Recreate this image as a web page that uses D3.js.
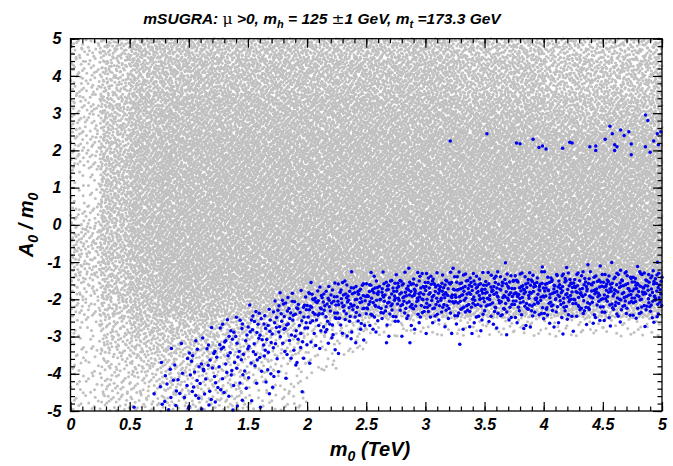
<!DOCTYPE html>
<meta charset="utf-8">
<style>
    body { margin: 0; background: #fff; }
    text {
        font-family: "Liberation Sans", Arial, sans-serif;
        font-weight: bold;
        font-style: italic;
        fill: #000;
    }
    .axis text { font-size: 16px; }
    .axis line { stroke: #000; stroke-width: 1.2px; }
    .sym { font-family: "DejaVu Serif", serif; font-weight: normal; font-style: normal; }
</style>
<svg width="673" height="466"></svg>
<script src="https://d3js.org/d3.v7.min.js"></script>
<script>

    // gray points: density level (0-9) per cell
    // rows go from A0/m0 = 5 down to -5 in steps of 0.5,
    // columns from m0 = 0 to 5 TeV in steps of 0.25
    var grayRows = [
        "24666666666665554444",
        "24677777777776665555",
        "24677777777776665555",
        "25788888888887776666",
        "25788888888888887777",
        "25899999999999999999",
        "26899999999999999999",
        "16899999999999999999",
        "16899999999999999999",
        "26899999999999999999",
        "36899999999999999999",
        "36899999999999999999",
        "35799999999999999999",
        "25788888888888888888",
        "24677666666666666666",
        "13555433221111111111",
        "13444322110000000000",
        "12333221100000000000",
        "12232211000000000000",
        "12222211000000000000"
    ];
    var grayPerLevel = 12;

    // blue points (lower band): counts per cell, one list per m0 column (step 0.25),
    // entries go from A0/m0 = -1 down to -5 in steps of 0.25
    var blueCols = [
        [0, 0, 0, 0, 0, 0, 0, 0, 0, 0, 0, 0, 0, 0, 0, 0],
        [0, 0, 0, 0, 0, 0, 0, 0, 0, 0, 0, 0, 0, 0, 0, 0],
        [0, 0, 0, 0, 0, 0, 0, 0, 0, 0, 0, 0, 0, 0, 1, 1],
        [0, 0, 0, 0, 0, 0, 0, 0, 1, 1, 2, 3, 3, 4, 4, 4],
        [0, 0, 0, 0, 0, 0, 0, 1, 3, 5, 5, 6, 5, 5, 4, 4],
        [0, 0, 0, 0, 0, 1, 4, 6, 7, 6, 5, 5, 4, 3, 3, 2],
        [0, 0, 0, 0, 2, 7, 9, 8, 7, 6, 5, 4, 3, 2, 2, 1],
        [0, 0, 0, 5, 11, 11, 9, 8, 6, 4, 3, 2, 1, 1, 0, 0],
        [0, 0, 4, 14, 16, 13, 9, 6, 4, 2, 1, 0, 0, 0, 0, 0],
        [0, 1, 10, 18, 17, 11, 7, 4, 3, 1, 0, 0, 0, 0, 0, 0],
        [0, 4, 17, 20, 17, 10, 5, 3, 1, 0, 0, 0, 0, 0, 0, 0],
        [1, 7, 19, 21, 17, 9, 4, 2, 1, 0, 0, 0, 0, 0, 0, 0],
        [1, 9, 20, 21, 16, 9, 4, 2, 0, 0, 0, 0, 0, 0, 0, 0],
        [0, 10, 20, 21, 16, 9, 4, 3, 1, 0, 0, 0, 0, 0, 0, 0],
        [1, 10, 20, 21, 16, 9, 3, 2, 0, 0, 0, 0, 0, 0, 0, 0],
        [1, 11, 21, 21, 16, 9, 4, 1, 0, 0, 0, 0, 0, 0, 0, 0],
        [1, 11, 21, 21, 15, 9, 4, 1, 0, 0, 0, 0, 0, 0, 0, 0],
        [2, 12, 21, 21, 15, 8, 3, 1, 0, 0, 0, 0, 0, 0, 0, 0],
        [2, 13, 21, 20, 15, 8, 3, 0, 0, 0, 0, 0, 0, 0, 0, 0],
        [3, 14, 21, 20, 15, 8, 3, 0, 0, 0, 0, 0, 0, 0, 0, 0]
    ];

    // the few blue points of the upper branch
    var blueUpperM0 = [3.21, 3.52, 3.77, 3.80, 3.91, 3.96, 3.99, 4.02, 4.16, 4.22, 4.24, 4.39, 4.44, 4.44,
        4.52, 4.56, 4.58, 4.60, 4.60, 4.62, 4.65, 4.68, 4.72, 4.74, 4.74, 4.86, 4.88, 4.86, 4.90, 4.93,
        4.96, 4.97, 4.99];
    var blueUpperA = [2.25, 2.45, 2.20, 2.18, 2.30, 2.08, 2.12, 2.04, 2.06, 2.22, 2.20, 2.10, 2.12, 2.00,
        2.30, 2.65, 2.45, 2.15, 2.00, 2.10, 2.55, 2.40, 2.50, 2.17, 1.88, 2.95, 2.80, 2.10, 1.95, 2.25,
        2.45, 2.15, 2.50];

    var xTicks = [0, 0.5, 1, 1.5, 2, 2.5, 3, 3.5, 4, 4.5, 5];
    var yTicks = [-5, -4, -3, -2, -1, 0, 1, 2, 3, 4, 5];

    var svg = d3.select("svg");
    var plotL = 70.5, plotR = 662, plotT = 38.7, plotB = 411;

    var x = d3.scaleLinear().domain([0, 5]).range([plotL, plotR]);
    var y = d3.scaleLinear().domain([-5, 5]).range([plotB, plotT]);

    // spread the counted points over their cell (leaped Halton sequence)
    function halton(i, b) {
        var f = 1, r = 0;
        while (i > 0) {
            f = f / b;
            r += f * (i % b);
            i = Math.floor(i / b);
        }
        return r;
    }
    var leap = 409;

    var gray = [], k = 1;
    grayRows.forEach(function (row, r) {
        var aTop = 5 - r * 0.5;
        row.split("").forEach(function (ch, c) {
            var n = +ch * grayPerLevel;
            for (var j = 0; j < n; j++, k++) {
                gray.push([c * 0.25 + halton(k * leap, 2) * 0.25, aTop - halton(k * leap, 3) * 0.5]);
            }
        });
    });

    var blue = [];
    k = 3;
    blueCols.forEach(function (col, c) {
        col.forEach(function (n, r) {
            var aTop = -1 - r * 0.25;
            for (var j = 0; j < n; j++, k++) {
                blue.push([c * 0.25 + halton(k * leap, 2) * 0.25, aTop - halton(k * leap, 3) * 0.25]);
            }
        });
    });
    blueUpperM0.forEach(function (m, i) {
        blue.push([m, blueUpperA[i]]);
    });

    svg.append("g")
        .attr("fill", "#c0c0c0")
        .selectAll("circle")
        .data(gray)
        .enter().append("circle")
        .attr("cx", d => x(d[0]))
        .attr("cy", d => y(d[1]))
        .attr("r", 1.5);

    svg.append("g")
        .attr("fill", "#0000ee")
        .selectAll("circle")
        .data(blue)
        .enter().append("circle")
        .attr("cx", d => x(d[0]))
        .attr("cy", d => y(d[1]))
        .attr("r", 1.75);

    // axes, ticks pointing inwards on all four sides
    var xMinor = d3.range(0, 5.001, 0.1).map(d => +d.toFixed(1));
    var yMinor = d3.range(-5, 5.001, 0.2).map(d => +d.toFixed(1));

    function addAxis(axis, tx, ty) {
        var g = svg.append("g")
            .attr("class", "axis")
            .attr("transform", "translate(" + tx + "," + ty + ")")
            .call(axis);
        g.select(".domain").remove();
        return g;
    }

    addAxis(d3.axisBottom(x).tickValues(xMinor).tickSize(-4.5).tickFormat(""), 0, plotB);
    addAxis(d3.axisBottom(x).tickValues(xTicks).tickSize(-9).tickPadding(5).tickFormat(d => String(d)), 0, plotB)
        .selectAll("text").attr("dy", "0.85em");
    addAxis(d3.axisTop(x).tickValues(xMinor).tickSize(-4.5).tickFormat(""), 0, plotT);
    addAxis(d3.axisTop(x).tickValues(xTicks).tickSize(-9).tickFormat(""), 0, plotT);

    addAxis(d3.axisLeft(y).tickValues(yMinor).tickSize(-4.5).tickFormat(""), plotL, 0);
    addAxis(d3.axisLeft(y).tickValues(yTicks).tickSize(-9).tickPadding(9).tickFormat(d => String(d)), plotL, 0);
    addAxis(d3.axisRight(y).tickValues(yMinor).tickSize(-4.5).tickFormat(""), plotR, 0);
    addAxis(d3.axisRight(y).tickValues(yTicks).tickSize(-9).tickFormat(""), plotR, 0);

    svg.append("rect")
        .attr("x", plotL)
        .attr("y", plotT)
        .attr("width", plotR - plotL)
        .attr("height", plotB - plotT)
        .attr("fill", "none")
        .attr("stroke", "#000")
        .attr("stroke-width", 1.3);

    // title
    var title = svg.append("text")
        .attr("x", 322)
        .attr("y", 24)
        .attr("text-anchor", "middle")
        .style("font-size", "15.5px");
    title.append("tspan").text("mSUGRA: ");
    title.append("tspan").attr("class", "sym").text("\u03bc");
    title.append("tspan").text(" >0, m");
    title.append("tspan").attr("dy", 4).style("font-size", "11px").text("h");
    title.append("tspan").attr("dy", -4).text(" = 125 ");
    title.append("tspan").attr("class", "sym").text("\u00b1");
    title.append("tspan").text("1 GeV, m");
    title.append("tspan").attr("dy", 4).style("font-size", "11px").text("t");
    title.append("tspan").attr("dy", -4).text(" =173.3 GeV");

    // x axis title
    var xt = svg.append("text")
        .attr("x", 370)
        .attr("y", 456)
        .attr("text-anchor", "middle")
        .style("font-size", "20px");
    xt.append("tspan").text("m");
    xt.append("tspan").attr("dy", 5).style("font-size", "14px").text("0");
    xt.append("tspan").attr("dy", -5).text(" (TeV)");

    // y axis title
    var yt = svg.append("text")
        .attr("transform", "translate(33," + (plotT + plotB) / 2 + ") rotate(-90)")
        .attr("text-anchor", "middle")
        .style("font-size", "20px");
    yt.append("tspan").text("A");
    yt.append("tspan").attr("dy", 5).style("font-size", "14px").text("0");
    yt.append("tspan").attr("dy", -5).text(" / m");
    yt.append("tspan").attr("dy", 5).style("font-size", "14px").text("0");

</script>
